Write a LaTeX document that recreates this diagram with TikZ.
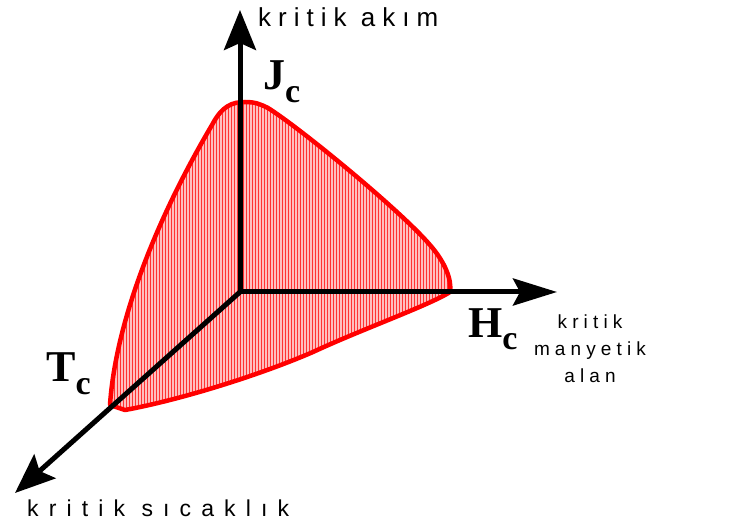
\documentclass[tikz,border=0pt]{standalone}
\usepackage{fontspec}
\setmainfont{Liberation Serif}
\newfontfamily\notefont{Liberation Sans}
\usetikzlibrary{arrows.meta,patterns}

\begin{document}
\begin{tikzpicture}[x=1pt, y=-1pt,
  axis/.style={line width=5pt, -{Stealth[length=40pt, width=32pt, inset=7pt]}},
  region/.style={draw=red, line width=4.5pt, line join=round},
  crit/.style={font=\fontsize{44}{44}\selectfont\bfseries, inner sep=0pt, anchor=base west},
  note/.style={inner sep=0pt},
]
  \useasboundingbox[fill=white] (0,0) rectangle (729,529);

  % axis end points
  \coordinate (O) at (240,292);
  \coordinate (Jtip) at (240,10);
  \coordinate (Htip) at (557,292);
  \coordinate (Ttip) at (15,493);

  % critical surface
  \coordinate (Tc) at (110,405);
  \coordinate (Jc) at (245,102);
  \coordinate (Hc) at (450,292);
  \path[fill=red!25] (Tc) .. controls (115,330) and (150,230) .. (212,125)
    .. controls (222,106) and (232,102) .. (Jc)
    .. controls (255,102) and (260,104) .. (268,108)
    .. controls (300,128) and (400,210) .. (430,245)
    .. controls (445,262) and (452,280) .. (Hc)
    .. controls (430,305) and (360,330) .. (313,352)
    .. controls (260,375) and (180,400) .. (125,410) -- cycle;
  \path[pattern=vertical lines, pattern color=red!80] (Tc) .. controls (115,330) and (150,230) .. (212,125)
    .. controls (222,106) and (232,102) .. (Jc)
    .. controls (255,102) and (260,104) .. (268,108)
    .. controls (300,128) and (400,210) .. (430,245)
    .. controls (445,262) and (452,280) .. (Hc)
    .. controls (430,305) and (360,330) .. (313,352)
    .. controls (260,375) and (180,400) .. (125,410) -- cycle;
  \draw[region] (Tc) .. controls (115,330) and (150,230) .. (212,125)
    .. controls (222,106) and (232,102) .. (Jc)
    .. controls (255,102) and (260,104) .. (268,108)
    .. controls (300,128) and (400,210) .. (430,245)
    .. controls (445,262) and (452,280) .. (Hc)
    .. controls (430,305) and (360,330) .. (313,352)
    .. controls (260,375) and (180,400) .. (125,410) -- cycle;

  % axes
  \draw[axis] (O) -- (Jtip);
  \draw[axis, -{Stealth[length=44pt, width=27pt, inset=7pt]}] (O) -- (Htip);
  \draw[axis] (O) -- (Ttip);

  % labels
  \node[crit] (jlabel) at (263,90) {J\raisebox{-13pt}{\fontsize{34}{34}\selectfont c}};
  \node[crit] (hlabel) at (468,338) {H\raisebox{-12pt}{\fontsize{34}{34}\selectfont c}};
  \node[crit] (tlabel) at (46,382) {T\raisebox{-13pt}{\fontsize{34}{34}\selectfont c}};

  \node[note, anchor=base west, font=\notefont\fontsize{26}{26}\selectfont\addfontfeature{LetterSpace=27}] (akim) at (258,27) {kritik akım};
  \node[note, anchor=north, align=center, font=\notefont\fontsize{19}{27}\selectfont\addfontfeature{LetterSpace=27}] (alan) at (590,315) {kritik\\manyetik\\alan};
  \node[note, anchor=base west, font=\notefont\fontsize{23}{23}\selectfont\addfontfeature{LetterSpace=44}] (sicaklik) at (27,517) {kritik sıcaklık};
\end{tikzpicture}
\end{document}
